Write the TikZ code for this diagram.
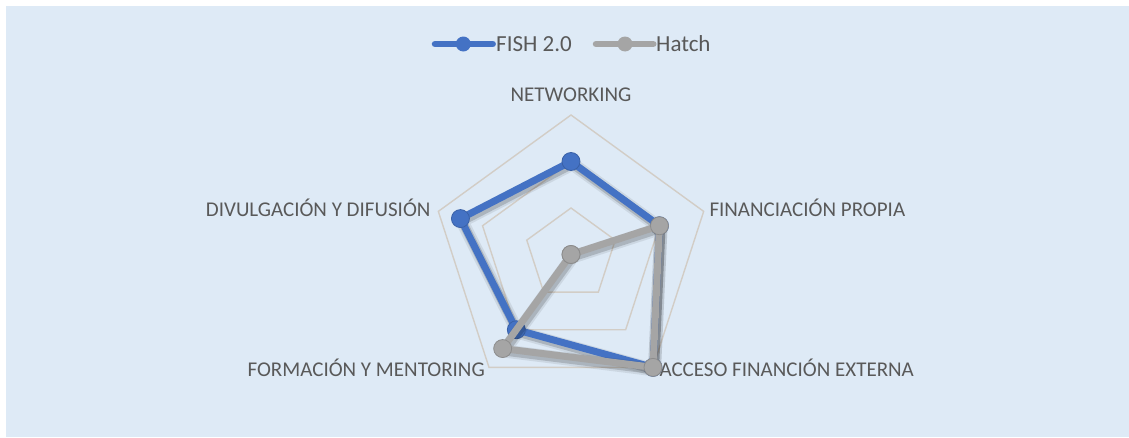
\documentclass[tikz,border=0pt]{standalone}
\usepackage{fontspec}
\setmainfont{Carlito}
\definecolor{bgblue}{RGB}{222,234,246}
\definecolor{sblue}{RGB}{68,114,196}
\definecolor{sgray}{RGB}{165,165,165}
\definecolor{gridc}{RGB}{210,205,198}
\definecolor{txt}{RGB}{89,89,89}
\begin{document}
\begin{tikzpicture}[x=1pt,y=1pt,
  axislabel/.style={font=\fontsize{21}{25}\selectfont, text=txt, inner sep=0},
  legtext/.style={font=\fontsize{23}{27}\selectfont, text=txt, inner sep=0},
  gridline/.style={draw=gridc, line width=1.4pt, line join=miter},
  bseries/.style={draw=sblue, line width=7pt, line join=round, line cap=round},
  gseries/.style={draw=sgray, line width=7pt, line join=round, line cap=round},
  shadowA/.style={draw=black, opacity=0.08, line width=13pt, line join=round},
  shadowB/.style={draw=black, opacity=0.16, line width=9pt, line join=round},
  bmark/.style={circle, fill=sblue, draw=sblue!85!black, line width=0.8pt, minimum size=18pt, inner sep=0},
  gmark/.style={circle, fill=sgray, draw=sgray!85!black, line width=0.8pt, minimum size=18pt, inner sep=0},
  lbmark/.style={circle, fill=sblue, minimum size=15pt, inner sep=0},
  lgmark/.style={circle, fill=sgray, minimum size=15pt, inner sep=0}]
% canvas
\useasboundingbox (-571,-182.5) rectangle (558,254.5);
\fill[white] (-571,-182.5) rectangle (558,254.5);
\fill[bgblue] (-565,-182.5) rectangle (558,248.5);
% grid
\foreach \r in {46.5,93,139.5}
  \draw[gridline] (90:\r) -- (18:\r) -- (-54:\r) -- (-126:\r) -- (162:\r) -- cycle;
% axis labels
\node[axislabel, anchor=base] (lN) at (0,152.8) {NETWORKING};
\node[axislabel, anchor=base west] (lFP) at (138.3,38.5) {FINANCIACIÓN PROPIA};
\node[axislabel, anchor=base west] (lAF) at (88.3,-122.2) {ACCESO FINANCIÓN EXTERNA};
\node[axislabel, anchor=base east] (lFM) at (-86,-122.2) {FORMACIÓN Y MENTORING};
\node[axislabel, anchor=base east] (lDD) at (-140.3,38.5) {DIVULGACIÓN Y DIFUSIÓN};
% data points
\coordinate (f1) at (90:93);
\coordinate (f2) at (18:93);
\coordinate (f3) at (-54:139.5);
\coordinate (f4) at (-126:93);
\coordinate (f5) at (162:116.25);
\coordinate (h1) at (0,0);
\coordinate (h2) at (18:93);
\coordinate (h3) at (-54:139.5);
\coordinate (h4) at (-126:116.25);
\coordinate (h5) at (0,0);
% FISH 2.0 series
\foreach \s in {shadowA,shadowB}
  \draw[\s] ([shift={(1.5,-2.5)}]f1) -- ([shift={(1.5,-2.5)}]f2) -- ([shift={(1.5,-2.5)}]f3) -- ([shift={(1.5,-2.5)}]f4) -- ([shift={(1.5,-2.5)}]f5) -- cycle;
\draw[bseries] (f1) -- (f2) -- (f3) -- (f4) -- (f5) -- cycle;
\foreach \p in {f1,f2,f3,f4,f5}
  \node[bmark] (m\p) at (\p) {};
% Hatch series
\foreach \s in {shadowA,shadowB}
  \draw[\s] ([shift={(1.5,-2.5)}]h1) -- ([shift={(1.5,-2.5)}]h2) -- ([shift={(1.5,-2.5)}]h3) -- ([shift={(1.5,-2.5)}]h4) -- ([shift={(1.5,-2.5)}]h5) -- cycle;
\draw[gseries] (h1) -- (h2) -- (h3) -- (h4) -- (h5) -- cycle;
\foreach \p in {h1,h2,h3,h4,h5}
  \node[gmark] (m\p) at (\p) {};
% legend
\coordinate (lb1) at (-136,210.5);
\coordinate (lb2) at (-78.3,210.5);
\draw[bseries, line width=6.5pt] (lb1) -- (lb2);
\node[lbmark] (lbm) at (-107.7,210.5) {};
\node[legtext, anchor=base west] (lbt) at (-75,202.8) {FISH 2.0};
\coordinate (lg1) at (25,210.5);
\coordinate (lg2) at (82.3,210.5);
\draw[gseries, line width=6.5pt] (lg1) -- (lg2);
\node[lgmark] (lgm) at (54,210.5) {};
\node[legtext, anchor=base west] (lgt) at (85,202.8) {Hatch};
\end{tikzpicture}
\end{document}
